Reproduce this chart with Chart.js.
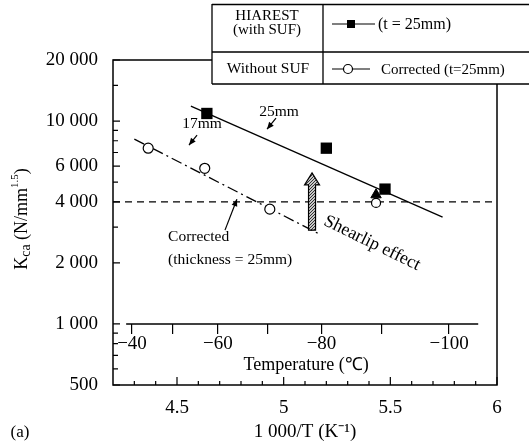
<!DOCTYPE html>
<html>
<head>
<meta charset="utf-8">
<script src="https://cdn.jsdelivr.net/npm/chart.js@4.4.1/dist/chart.umd.min.js"></script>
<style>
  html, body { margin: 0; padding: 0; background: #fff; }
  #wrap { width: 529px; height: 446px; }
</style>
</head>
<body>
<div id="wrap"><canvas id="kcaChart" width="529" height="446"></canvas></div>
<script>
// ---- values ----
const xMin = 4.2, xMax = 6;
const yMin = 500, yMax = 20000;

const hiarestX = [4.64, 5.20, 5.475];
const hiarestK = [10900, 7350, 4620];
const correctedX = [4.365, 4.63, 4.935];
const correctedK = [7350, 5850, 3680];
const fit25X = [4.565, 5.745];
const fit25K = [11850, 3360];
const fit17X = [4.30, 5.16];
const fit17K = [8150, 2800];
const refLevelK = 4000;
const shearlipX = 5.433;
const shearlipTriK = 4330;
const shearlipCircK = 3950;

const xTickValues = [4.5, 5, 5.5, 6];
const xMinorTicks = [4.3, 4.4, 4.6, 4.7, 4.8, 4.9, 5.1, 5.2, 5.3, 5.4, 5.6, 5.7, 5.8, 5.9];
const yTickValues = [500, 1000, 2000, 4000, 6000, 10000, 20000];
const yMinorTicks = [600, 700, 800, 900, 3000, 5000, 7000, 8000, 9000, 15000];
const tempTicks = [-40, -50, -60, -70, -80, -90, -100];
const tempLabels = ['−40', '', '−60', '', '−80', '', '−100'];
const tempAxisRange = [-38.5, -104];
const tempAxisK = 1000;

// annotation anchors, in data units (1000/T, Kca)
const notes = [
  { text: '25mm', x: 4.978, k: 11100, align: 'center' },
  { text: '17mm', x: 4.617, k: 9650, align: 'center' },
  { text: 'Corrected', x: 4.458, k: 2680, align: 'left' },
  { text: '(thickness = 25mm)', x: 4.458, k: 2065, align: 'left' },
];
const pointers = [
  [4.964, 10330, 4.922, 9120],
  [4.594, 8530, 4.556, 7610],
  [4.725, 2900, 4.781, 4120],
];
const shearArrow = { x: 5.133, from: 2900, to: 5550 };
const shearText = { text: 'Shearlip effect', x: 5.414, k: 2500, angle: 26 };
const tempTitle = { text: 'Temperature (℃)', x: 5.105, k: 625 };

const FONT = "'Liberation Serif', 'Times New Roman', serif";
Chart.defaults.font.family = FONT;
Chart.defaults.color = '#000';

const toInvT = t => 1000 / (t + 273.15);
const fmtK = v => v >= 1000 ? Math.floor(v / 1000) + ' ' + String(v % 1000).padStart(3, '0') : String(v);
const pairs = (xs, ys) => xs.map((x, i) => ({ x, y: ys[i] }));

function arrowHead(ctx, x1, y1, x2, y2, len, half) {
  const a = Math.atan2(y2 - y1, x2 - x1);
  ctx.beginPath();
  ctx.moveTo(x2, y2);
  ctx.lineTo(x2 - len * Math.cos(a) + half * Math.sin(a), y2 - len * Math.sin(a) - half * Math.cos(a));
  ctx.lineTo(x2 - len * Math.cos(a) - half * Math.sin(a), y2 - len * Math.sin(a) + half * Math.cos(a));
  ctx.closePath();
  ctx.fill();
}

function stipple(ctx) {
  const c = document.createElement('canvas');
  c.width = 3; c.height = 3;
  const g = c.getContext('2d');
  g.fillStyle = '#c8c8c8'; g.fillRect(0, 0, 3, 3);
  g.fillStyle = '#333'; g.fillRect(0, 0, 1, 1); g.fillRect(2, 1, 1, 1); g.fillRect(1, 2, 1, 1);
  return ctx.createPattern(c, 'repeat');
}

const decor = {
  id: 'decor',
  afterDatasetsDraw(chart) {
    const { ctx, chartArea: a, scales: { x, y } } = chart;
    ctx.save();
    ctx.strokeStyle = '#000';
    ctx.fillStyle = '#000';

    // frame
    ctx.lineWidth = 1.5;
    ctx.strokeRect(a.left, a.top, a.right - a.left, a.bottom - a.top);

    // inward ticks
    ctx.lineWidth = 1.2;
    ctx.beginPath();
    xTickValues.forEach(v => { const p = x.getPixelForValue(v); ctx.moveTo(p, a.bottom); ctx.lineTo(p, a.bottom - 8); });
    xMinorTicks.forEach(v => { const p = x.getPixelForValue(v); ctx.moveTo(p, a.bottom); ctx.lineTo(p, a.bottom - 4); });
    yTickValues.forEach(v => { const p = y.getPixelForValue(v); ctx.moveTo(a.left, p); ctx.lineTo(a.left + 7, p); });
    yMinorTicks.forEach(v => { const p = y.getPixelForValue(v); ctx.moveTo(a.left, p); ctx.lineTo(a.left + 5, p); });
    ctx.stroke();

    // text notes
    ctx.font = '15.5px ' + FONT;
    ctx.textBaseline = 'middle';
    notes.forEach(n => {
      ctx.textAlign = n.align;
      ctx.fillText(n.text, x.getPixelForValue(n.x), y.getPixelForValue(n.k));
    });

    // little pointer arrows
    ctx.lineWidth = 1.2;
    pointers.forEach(p => {
      const x1 = x.getPixelForValue(p[0]), y1 = y.getPixelForValue(p[1]);
      const x2 = x.getPixelForValue(p[2]), y2 = y.getPixelForValue(p[3]);
      ctx.beginPath(); ctx.moveTo(x1, y1); ctx.lineTo(x2, y2); ctx.stroke();
      arrowHead(ctx, x1, y1, x2, y2, 7, 3);
    });

    // hatched shearlip arrow
    const ax = x.getPixelForValue(shearArrow.x);
    const yb = y.getPixelForValue(shearArrow.from);
    const yt = y.getPixelForValue(shearArrow.to);
    ctx.beginPath();
    ctx.moveTo(ax - 3.5, yb);
    ctx.lineTo(ax - 3.5, yt + 12);
    ctx.lineTo(ax - 7.5, yt + 12);
    ctx.lineTo(ax, yt);
    ctx.lineTo(ax + 7.5, yt + 12);
    ctx.lineTo(ax + 3.5, yt + 12);
    ctx.lineTo(ax + 3.5, yb);
    ctx.closePath();
    ctx.fillStyle = stipple(ctx);
    ctx.fill();
    ctx.lineWidth = 1.2;
    ctx.stroke();
    ctx.fillStyle = '#000';

    // rotated "Shearlip effect"
    ctx.save();
    ctx.translate(x.getPixelForValue(shearText.x), y.getPixelForValue(shearText.k));
    ctx.rotate(shearText.angle * Math.PI / 180);
    ctx.font = '18px ' + FONT;
    ctx.textAlign = 'center';
    ctx.fillText(shearText.text, 0, 0);
    ctx.restore();

    // temperature axis title
    ctx.font = '18px ' + FONT;
    ctx.textAlign = 'center';
    ctx.fillText(tempTitle.text, x.getPixelForValue(tempTitle.x), y.getPixelForValue(tempTitle.k));

    ctx.restore();
  },
  afterDraw(chart) {
    const { ctx } = chart;
    ctx.save();
    ctx.fillStyle = '#000';
    ctx.strokeStyle = '#000';

    // legend table in the top right corner
    ctx.fillStyle = '#fff';
    ctx.fillRect(212, 4, 330, 80);
    ctx.fillStyle = '#000';
    ctx.lineWidth = 1.3;
    ctx.beginPath();
    ctx.moveTo(212, 4.5); ctx.lineTo(529, 4.5);
    ctx.moveTo(212, 52); ctx.lineTo(529, 52);
    ctx.moveTo(212, 84); ctx.lineTo(529, 84);
    ctx.moveTo(212, 4); ctx.lineTo(212, 84);
    ctx.moveTo(323, 4); ctx.lineTo(323, 84);
    ctx.stroke();

    ctx.textBaseline = 'middle';
    ctx.textAlign = 'center';
    ctx.font = '15px ' + FONT;
    ctx.fillText('HIAREST', 267, 16);
    ctx.fillText('(with SUF)', 267, 30);
    ctx.font = '15.5px ' + FONT;
    ctx.fillText('Without SUF', 268, 69);

    ctx.lineWidth = 1.2;
    ctx.beginPath();
    ctx.moveTo(332, 24); ctx.lineTo(375, 24);
    ctx.moveTo(332, 69); ctx.lineTo(370, 69);
    ctx.stroke();
    ctx.fillRect(347, 20, 8, 8);
    ctx.beginPath();
    ctx.arc(348, 69, 4.5, 0, Math.PI * 2);
    ctx.fillStyle = '#fff'; ctx.fill();
    ctx.fillStyle = '#000'; ctx.stroke();

    ctx.textAlign = 'left';
    ctx.font = '16px ' + FONT;
    ctx.fillText('(t = 25mm)', 378, 25);
    ctx.font = '15px ' + FONT;
    ctx.fillText('Corrected (t=25mm)', 381, 70);

    // y-axis title with sub/superscripts
    const parts = [
      { t: 'K', size: 18, dy: 0 },
      { t: 'ca', size: 14, dy: 4 },
      { t: ' (N/mm', size: 18, dy: 0 },
      { t: '1.5', size: 11, dy: -7 },
      { t: ')', size: 18, dy: 0 },
    ];
    ctx.translate(22, 219);
    ctx.rotate(-Math.PI / 2);
    let total = 0;
    parts.forEach(p => { ctx.font = p.size + 'px ' + FONT; p.w = ctx.measureText(p.t).width; total += p.w; });
    let cx = -total / 2;
    parts.forEach(p => { ctx.font = p.size + 'px ' + FONT; ctx.fillText(p.t, cx, p.dy); cx += p.w; });
    ctx.setTransform(1, 0, 0, 1, 0, 0);

    ctx.font = '17px ' + FONT;
    ctx.textAlign = 'center';
    ctx.fillText('(a)', 20, 433);
    ctx.restore();
  }
};

const datasets = [
  { label: 'HIAREST (with SUF)', data: pairs(hiarestX, hiarestK), pointStyle: 'rect', pointRadius: 8,
    backgroundColor: '#000', borderColor: '#000', borderWidth: 0, order: 0 },
  { label: 'Corrected (t=25mm)', data: pairs(correctedX, correctedK), pointStyle: 'circle', pointRadius: 5,
    backgroundColor: '#fff', borderColor: '#000', borderWidth: 1.2, order: 1 },
  { label: 'shearlip triangle', data: [{ x: shearlipX, y: shearlipTriK }], pointStyle: 'triangle', pointRadius: 6,
    backgroundColor: '#000', borderColor: '#000', borderWidth: 1, order: 0 },
  { label: 'shearlip circle', data: [{ x: shearlipX, y: shearlipCircK }], pointStyle: 'circle', pointRadius: 4.5,
    backgroundColor: '#fff', borderColor: '#000', borderWidth: 1.2, order: 2 },
  { label: '25mm', data: pairs(fit25X, fit25K), showLine: true, pointRadius: 0,
    borderColor: '#000', borderWidth: 1.3, order: 5 },
  { label: '17mm', data: pairs(fit17X, fit17K), showLine: true, pointRadius: 0,
    borderColor: '#000', borderWidth: 1.3, borderDash: [11, 4, 2, 4], order: 5 },
  { label: '4000', data: [{ x: xMin, y: refLevelK }, { x: xMax, y: refLevelK }], showLine: true, pointRadius: 0,
    borderColor: '#000', borderWidth: 1.3, borderDash: [7, 5], order: 6 },
  { label: 'temperature axis', data: tempAxisRange.map(t => ({ x: toInvT(t), y: tempAxisK })), showLine: true,
    pointRadius: 0, borderColor: '#000', borderWidth: 1.5, order: 6 },
];

new Chart(document.getElementById('kcaChart'), {
  type: 'scatter',
  data: { datasets },
  options: {
    responsive: false,
    animation: false,
    layout: { padding: { top: 60, right: 32, left: 0, bottom: 0 } },
    plugins: { legend: { display: false }, tooltip: { enabled: false } },
    scales: {
      x: {
        type: 'linear', min: xMin, max: xMax,
        grid: { display: false }, border: { display: false },
        afterBuildTicks: s => { s.ticks = xTickValues.map(v => ({ value: v })); },
        afterFit: s => { s.height = 61; },
        ticks: { font: { size: 19 }, padding: 4, autoSkip: false, maxRotation: 0, callback: v => String(v) },
        title: { display: true, text: '1 000/T (K⁻¹)', font: { size: 19 }, padding: { top: 0, bottom: 3 } }
      },
      x2: {
        type: 'linear', min: xMin, max: xMax, position: { y: tempAxisK },
        border: { display: false },
        grid: { display: true, drawOnChartArea: false, drawTicks: true, tickLength: 10, color: '#000', lineWidth: 1.2 },
        afterBuildTicks: s => { s.ticks = tempTicks.map(t => ({ value: toInvT(t) })); },
        ticks: { font: { size: 19 }, padding: -1, autoSkip: false, maxRotation: 0,
          callback: (v, i) => tempLabels[i] }
      },
      y: {
        type: 'logarithmic', min: yMin, max: yMax,
        grid: { display: false }, border: { display: false },
        afterBuildTicks: s => { s.ticks = yTickValues.map(v => ({ value: v })); },
        afterFit: s => { s.width = 113; },
        ticks: { font: { size: 19 }, padding: 7, autoSkip: false, callback: v => fmtK(v) }
      }
    }
  },
  plugins: [decor]
});
</script>
</body>
</html>
